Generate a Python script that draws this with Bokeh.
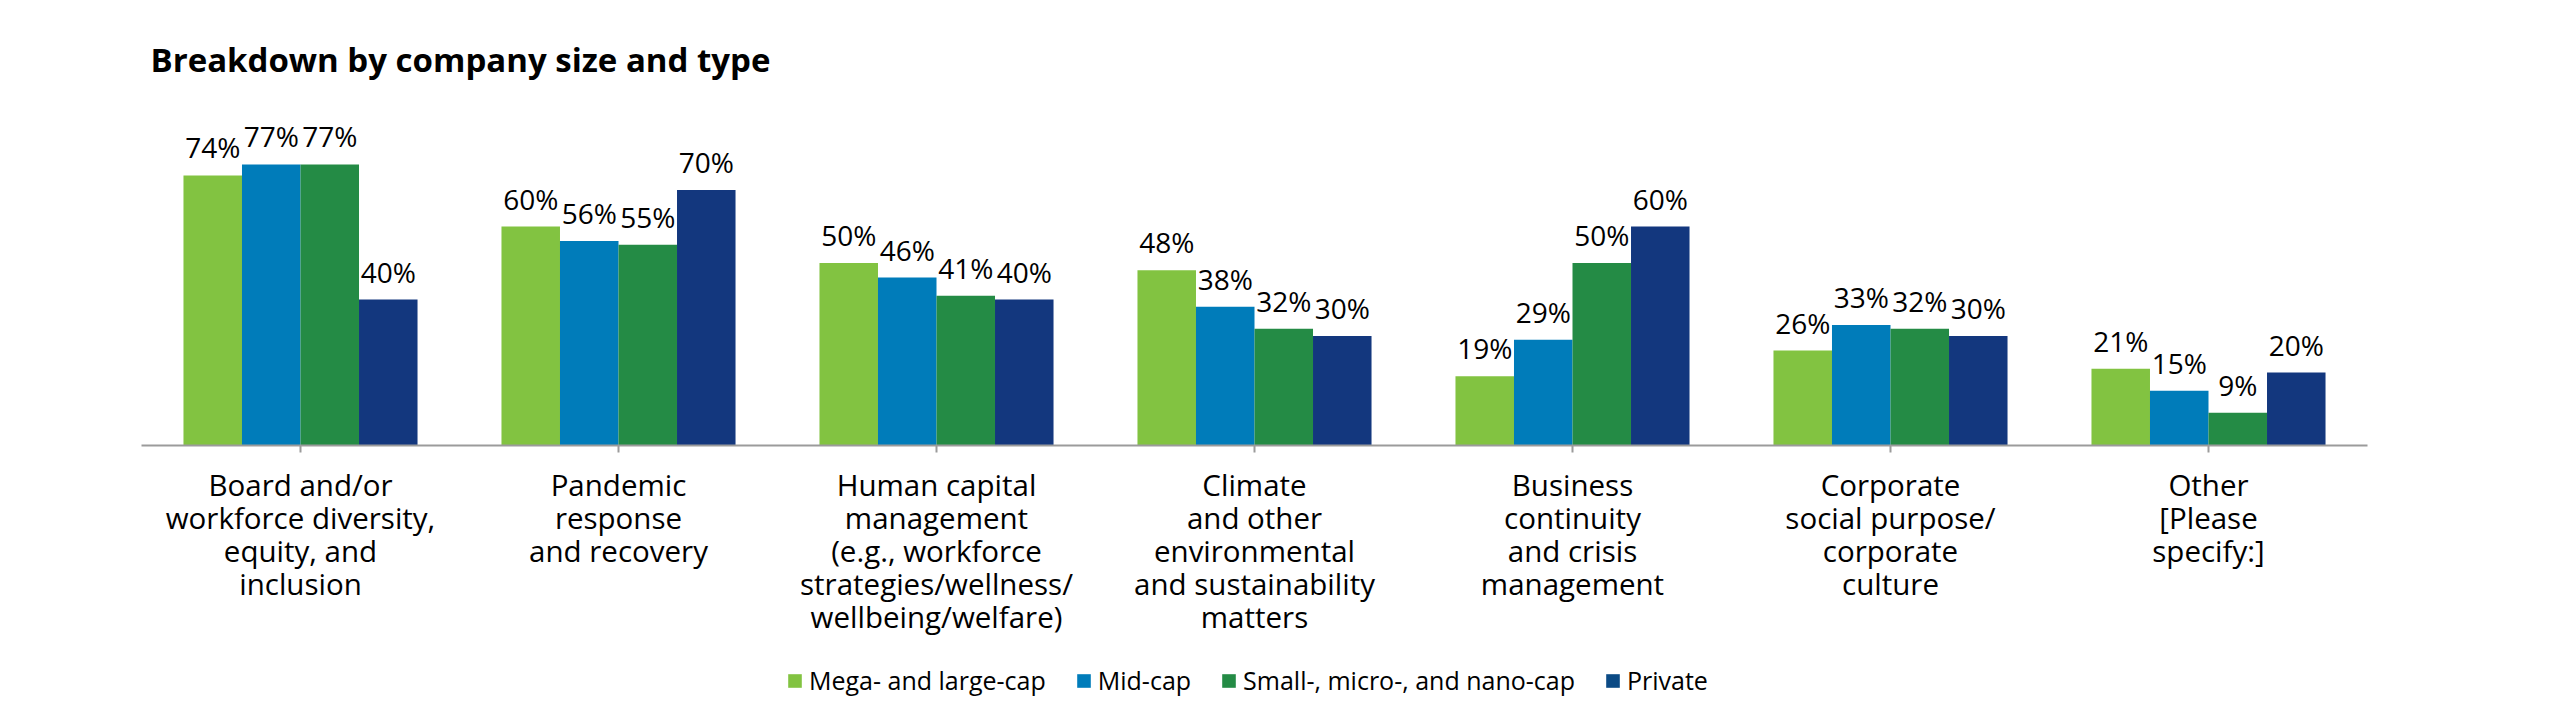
from bokeh.plotting import figure
from bokeh.models import ColumnDataSource, Legend, LegendItem, Label, Range1d, FactorRange
from bokeh.transform import dodge
from bokeh.layouts import column
from bokeh.core.properties import value
from bokeh.embed import file_html
from bokeh.resources import INLINE

categories = [
    "Board and/or\nworkforce diversity,\nequity, and\ninclusion",
    "Pandemic\nresponse\nand recovery",
    "Human capital\nmanagement\n(e.g., workforce\nstrategies/wellness/\nwellbeing/welfare)",
    "Climate\nand other\nenvironmental\nand sustainability\nmatters",
    "Business\ncontinuity\nand crisis\nmanagement",
    "Corporate\nsocial purpose/\ncorporate\nculture",
    "Other\n[Please\nspecify:]",
]
series_names = ["Mega- and large-cap", "Mid-cap", "Small-, micro-, and nano-cap", "Private"]
mega = [74, 60, 50, 48, 19, 26, 21]
mid = [77, 56, 46, 38, 29, 33, 15]
small = [77, 55, 41, 32, 50, 32, 9]
private = [40, 70, 40, 30, 60, 30, 20]
colors = ["#82C341", "#007CBA", "#248B45", "#13377E"]
legend_colors = ["#82C341", "#007CBA", "#248B45", "#0B4A85"]
title_text = "Breakdown by company size and type"

FONT = "Open Sans"
W = 2550
H1, H2 = 650, 69
FRAME_L, FRAME_R = 141, 2367
FRAME_H = 445
PX_PER_PCT = 3.65

p = figure(
    x_range=FactorRange(*categories, range_padding=0),
    y_range=Range1d(0, FRAME_H / PX_PER_PCT),
    width=W, height=H1,
    output_backend="svg", toolbar_location=None,
    min_border_left=FRAME_L, min_border_right=W - FRAME_R,
    min_border_top=0, min_border_bottom=H1 - FRAME_H,
)
p.outline_line_color = None
p.background_fill_color = "white"
p.border_fill_color = "white"
p.xgrid.visible = False
p.ygrid.visible = False
p.yaxis.visible = False

src = ColumnDataSource(dict(
    cat=categories, mega=mega, mid=mid, small=small, private=private,
    mega_t=[f"{v}%" for v in mega], mid_t=[f"{v}%" for v in mid],
    small_t=[f"{v}%" for v in small], private_t=[f"{v}%" for v in private],
))

bw = 0.184
offsets = [-1.5 * bw, -0.5 * bw, 0.5 * bw, 1.5 * bw]
keys = ["mega", "mid", "small", "private"]
for k, off, c in zip(keys, offsets, colors):
    p.vbar(x=dodge("cat", off, range=p.x_range), top=k, width=bw, bottom=0,
           source=src, fill_color=c, line_color=None)
    p.text(x=dodge("cat", off, range=p.x_range), y=k, text=k + "_t", source=src,
           text_align="center", text_baseline="alphabetic", y_offset=-28,
           text_font=value(FONT), text_font_size="28px", text_color="#000000")

ax = p.xaxis[0]
ax.axis_line_color = "#9B9B9B"
ax.axis_line_width = 2
ax.major_tick_line_color = "#9B9B9B"
ax.major_tick_line_width = 2
ax.major_tick_in = 0
ax.major_tick_out = 7
ax.minor_tick_line_color = None
ax.major_label_text_font = FONT
ax.major_label_text_font_size = "29.5px"
ax.major_label_text_color = "#000000"
ax.major_label_text_line_height = 0.81
ax.major_label_standoff = 11

title = Label(x=9, y=FRAME_H - 59, x_units="screen", y_units="screen", text=title_text,
              text_font=FONT, text_font_style="bold", text_font_size="33px",
              text_baseline="alphabetic", text_color="#000000")
p.add_layout(title)

# legend strip below the chart; proxy renderers of zero size carry the swatch colours
p2 = figure(width=W, height=H2, x_range=Range1d(0, W), y_range=Range1d(0, H2),
            x_axis_location=None, y_axis_location=None,
            output_backend="svg", toolbar_location=None,
            min_border_left=0, min_border_right=0, min_border_top=0, min_border_bottom=0)
p2.outline_line_color = None
p2.border_fill_color = "white"
p2.background_fill_color = "white"
p2.grid.visible = False
swatches = [p2.rect(x=[0], y=[0], width=0, height=0, fill_color=c, line_color=None)
            for c in legend_colors]
legend = Legend(
    items=[LegendItem(label=n, renderers=[r]) for n, r in zip(series_names, swatches)],
    orientation="horizontal", location=(645, 22),
    glyph_width=17, glyph_height=17, label_standoff=6, spacing=29,
    padding=0, margin=0, border_line_color=None, background_fill_alpha=0,
    label_text_font=FONT, label_text_font_size="25px", label_text_color="#000000",
)
p2.add_layout(legend, "center")

layout = column(p, p2, spacing=0)
open("out.html", "w").write(file_html(layout, INLINE))
